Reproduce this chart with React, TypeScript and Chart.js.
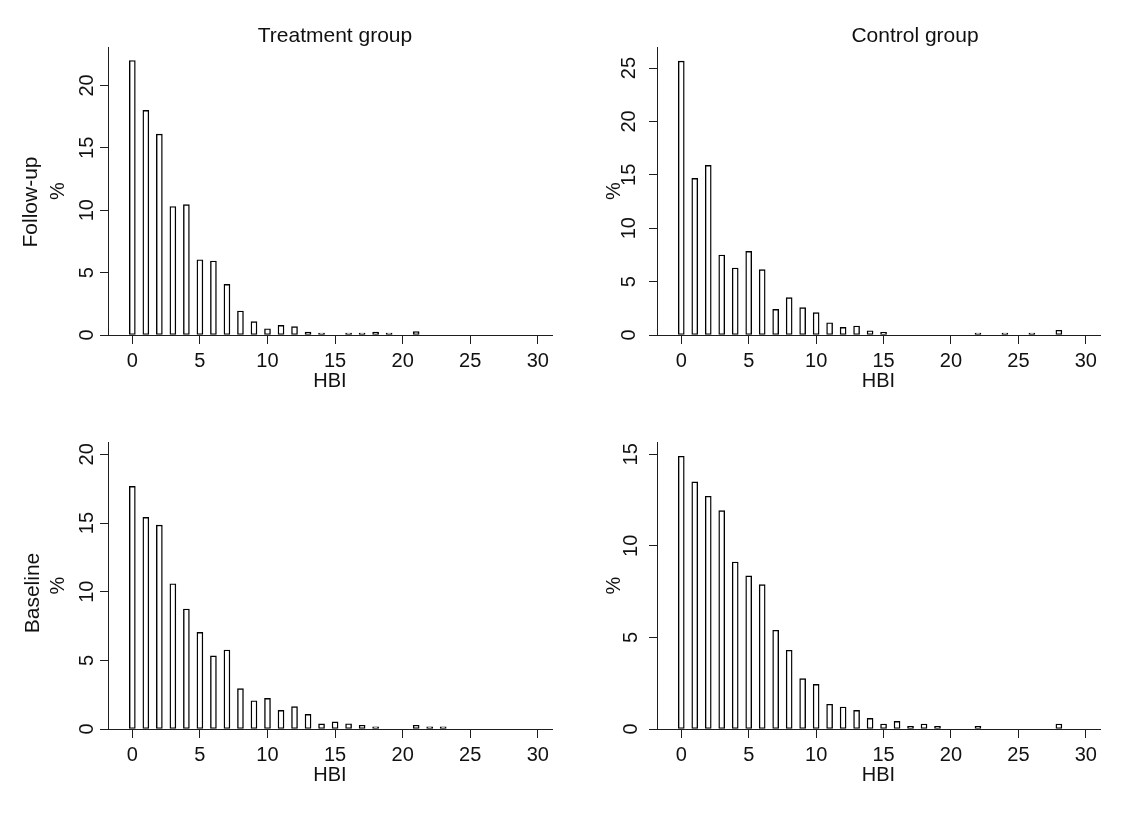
import React, { useEffect, useRef } from 'react';
import { Chart, registerables } from 'chart.js';

Chart.register(...registerables);

// ---------- data ----------
const hbiScores = [
  0, 1, 2, 3, 4, 5, 6, 7, 8, 9, 10, 11, 12, 13, 14, 15, 16, 17, 18, 19, 20, 21, 22, 23, 24, 25, 26, 27, 28,
];

const treatFollowUp = [
  22.0, 18.0, 16.1, 10.3, 10.45, 6.03, 5.93, 4.06, 1.92, 1.07, 0.5, 0.77, 0.67, 0.24, 0.16, null, 0.16, 0.16, 0.24,
  0.16, null, 0.27, null, null, null, null, null, null, null,
];

const controlFollowUp = [
  25.65, 14.67, 15.89, 7.49, 6.27, 7.83, 6.12, 2.4, 3.5, 2.56, 2.09, 1.15, 0.72, 0.84, 0.4, 0.25, null, null, null,
  null, null, null, 0.19, null, 0.19, null, 0.19, null, 0.44,
];

const treatBaseline = [
  17.67, 15.41, 14.85, 10.58, 8.74, 7.04, 5.32, 5.75, 2.94, 2.06, 2.23, 1.36, 1.63, 1.07, 0.37, 0.52, 0.38, 0.27,
  0.15, null, null, 0.27, 0.15, 0.15, null, null, null, null, null,
];

const controlBaseline = [
  14.89, 13.49, 12.71, 11.92, 9.12, 8.36, 7.88, 5.39, 4.3, 2.75, 2.44, 1.35, 1.2, 1.02, 0.58, 0.27, 0.42, 0.14,
  0.27, 0.14, null, null, 0.14, null, null, null, null, null, 0.27,
];

const xTickValues = [0, 5, 10, 15, 20, 25, 30];
const yTicksTreatFollowUp = [0, 5, 10, 15, 20];
const yTicksControlFollowUp = [0, 5, 10, 15, 20, 25];
const yTicksTreatBaseline = [0, 5, 10, 15, 20];
const yTicksControlBaseline = [0, 5, 10, 15];

const columnTitles = ['Treatment group', 'Control group'];
const rowTitles = ['Follow-up', 'Baseline'];
const xAxisTitle = 'HBI';
const yAxisTitle = '%';

// ---------- styling / layout ----------
const FONT = "'Liberation Sans', Arial, Helvetica, sans-serif";
const TEXT = '#111111';
const AXIS = '#1e1e1e';

Chart.defaults.font.family = FONT;
Chart.defaults.color = TEXT;

type PanelCfg = {
  values: (number | null)[];
  yTicks: number[];
  yMax: number;
  left: number;
  top: number;
  w: number;
  h: number;
  padTop: number;
  padBottom: number;
  padRight: number;
  yAxisWidth: number;
  yLabelPad: number;
  yTitlePad: number;
};

const panels: PanelCfg[] = [
  {
    values: treatFollowUp, yTicks: yTicksTreatFollowUp, yMax: 23.08,
    left: 0, top: 0, w: 565, h: 410, padTop: 47, padBottom: 15, padRight: 13,
    yAxisWidth: 108, yLabelPad: 0.9, yTitlePad: 46,
  },
  {
    values: controlFollowUp, yTicks: yTicksControlFollowUp, yMax: 26.97,
    left: 565, top: 0, w: 565, h: 410, padTop: 47, padBottom: 15, padRight: 30,
    yAxisWidth: 92, yLabelPad: 7.9, yTitlePad: 37,
  },
  {
    values: treatBaseline, yTicks: yTicksTreatBaseline, yMax: 20.9,
    left: 0, top: 410, w: 565, h: 416, padTop: 32, padBottom: 37, padRight: 13,
    yAxisWidth: 108, yLabelPad: 0.9, yTitlePad: 46,
  },
  {
    values: controlBaseline, yTicks: yTicksControlBaseline, yMax: 15.67,
    left: 565, top: 410, w: 565, h: 416, padTop: 32, padBottom: 37, padRight: 30,
    yAxisWidth: 92, yLabelPad: 5.9, yTitlePad: 37,
  },
];

function HistPanel({ cfg }: { cfg: PanelCfg }) {
  const ref = useRef<HTMLCanvasElement>(null);

  useEffect(() => {
    if (!ref.current) return;
    const points = hbiScores
      .map((x, i) => ({ x, y: cfg.values[i] }))
      .filter((p) => p.y !== null) as { x: number; y: number }[];

    const chart = new Chart(ref.current, {
      type: 'bar',
      data: {
        datasets: [
          {
            data: points as any,
            backgroundColor: '#ffffff',
            borderColor: '#000000',
            borderWidth: 1.4,
            borderSkipped: false,
            barThickness: 6,
          },
        ],
      },
      options: {
        responsive: false,
        animation: false,
        events: [],
        layout: { padding: { top: cfg.padTop, bottom: cfg.padBottom, left: 0, right: cfg.padRight } },
        plugins: { legend: { display: false }, tooltip: { enabled: false }, title: { display: false } },
        scales: {
          x: {
            type: 'linear',
            min: -1.8,
            max: 31.05,
            offset: false,
            grid: { display: true, drawOnChartArea: false, offset: false, tickLength: 9, color: AXIS, lineWidth: 1 },
            border: { display: true, color: AXIS, width: 1 },
            ticks: { padding: 5.5, font: { size: 20 }, color: TEXT, minRotation: 0, maxRotation: 0, autoSkip: false },
            title: { display: true, text: xAxisTitle, font: { size: 20 }, color: TEXT, padding: { top: 0, bottom: 1.5 } },
            afterBuildTicks: (s: any) => {
              s.ticks = xTickValues.map((v) => ({ value: v }));
            },
            afterFit: (s: any) => {
              s.height = 60;
            },
          },
          y: {
            type: 'linear',
            min: 0,
            max: cfg.yMax,
            grid: { display: true, drawOnChartArea: false, tickLength: 8, color: AXIS, lineWidth: 1 },
            border: { display: true, color: AXIS, width: 1 },
            ticks: {
              padding: cfg.yLabelPad,
              crossAlign: 'center',
              minRotation: 90,
              maxRotation: 90,
              font: { size: 20 },
              color: TEXT,
              autoSkip: false,
            },
            title: { display: true, text: yAxisTitle, font: { size: 20 }, color: TEXT, padding: { top: cfg.yTitlePad, bottom: 0 } },
            afterBuildTicks: (s: any) => {
              s.ticks = cfg.yTicks.map((v) => ({ value: v }));
            },
            afterFit: (s: any) => {
              s.width = cfg.yAxisWidth;
            },
          },
        } as any,
      },
    });
    return () => chart.destroy();
  }, [cfg]);

  return (
    <canvas
      ref={ref}
      width={cfg.w}
      height={cfg.h}
      style={{ position: 'absolute', left: cfg.left, top: cfg.top, width: cfg.w, height: cfg.h }}
    />
  );
}

const labelStyle: React.CSSProperties = {
  position: 'absolute',
  fontFamily: FONT,
  fontSize: 21,
  lineHeight: 1,
  color: TEXT,
  whiteSpace: 'nowrap',
};

export default function App() {
  return (
    <div
      style={{
        position: 'absolute',
        left: 0,
        top: 0,
        width: 1130,
        height: 826,
        background: '#ffffff',
        overflow: 'hidden',
      }}
    >
      {panels.map((p, i) => (
        <HistPanel key={i} cfg={p} />
      ))}
      <div style={{ ...labelStyle, left: 335, top: 34, transform: 'translate(-50%, -50%)' }}>{columnTitles[0]}</div>
      <div style={{ ...labelStyle, left: 915, top: 34, transform: 'translate(-50%, -50%)' }}>{columnTitles[1]}</div>
      <div style={{ ...labelStyle, left: 29, top: 202, transform: 'translate(-50%, -50%) rotate(-90deg)' }}>{rowTitles[0]}</div>
      <div style={{ ...labelStyle, left: 31, top: 593, transform: 'translate(-50%, -50%) rotate(-90deg)' }}>{rowTitles[1]}</div>
    </div>
  );
}
